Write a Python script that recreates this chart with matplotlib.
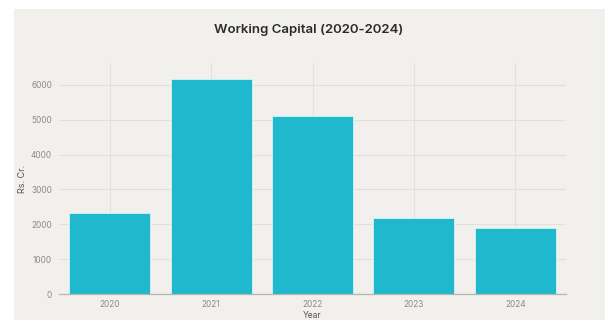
import matplotlib.pyplot as plt
from matplotlib.patches import Rectangle

years = ['2020', '2021', '2022', '2023', '2024']
working_capital = [2325, 6170, 5110, 2180, 1905]
y_ticks = [0, 1000, 2000, 3000, 4000, 5000, 6000]

BG = '#F1F0EC'
BAR = '#1FB8CD'
plt.rcParams['font.family'] = ['Inter', 'DejaVu Sans']

fig = plt.figure(figsize=(6.05, 3.2), dpi=100, facecolor='white')
# the chart panel sits inside a thin white margin (top / left)
fig.patches.append(Rectangle((14 / 605, 0), 1, 311 / 320, transform=fig.transFigure,
                             facecolor=BG, edgecolor='none', zorder=-10))

ax = fig.add_axes([59 / 605, 26 / 320, 507 / 605, 231 / 320])
ax.set_facecolor(BG)

x = range(len(years))
ax.bar(x, working_capital, width=0.8, color=BAR, edgecolor='#C9F0F5', linewidth=0.7, zorder=3)

ax.set_xlim(-0.5, 4.5)
ax.set_ylim(0, 6630)
ax.set_xticks(list(x))
ax.set_xticklabels(years)
ax.set_yticks(y_ticks)
ax.set_yticklabels([str(v) for v in y_ticks])

ax.grid(True, color='#E1E0DB', linewidth=0.8, zorder=0)
for s in ['top', 'right', 'left']:
    ax.spines[s].set_visible(False)
ax.spines['bottom'].set_color('#B5B5B2')
ax.spines['bottom'].set_linewidth(0.9)
ax.spines['bottom'].set_zorder(4)
ax.tick_params(axis='both', length=0, labelsize=6, labelcolor='#8A8A88')
ax.tick_params(axis='y', pad=5)
ax.tick_params(axis='x', pad=4)

ax.set_ylabel('Rs. Cr.', fontsize=6.5, color='#555555', labelpad=3)
ax.set_xlabel('Year', fontsize=6.2, color='#555555', labelpad=1.5)

fig.text(309 / 605, 1 - 30 / 320, 'Working Capital (2020-2024)', ha='center', va='center',
         fontsize=9.5, fontweight='semibold', color='#2B2B2B')

fig.savefig('out.png', dpi=100, facecolor=fig.get_facecolor())
